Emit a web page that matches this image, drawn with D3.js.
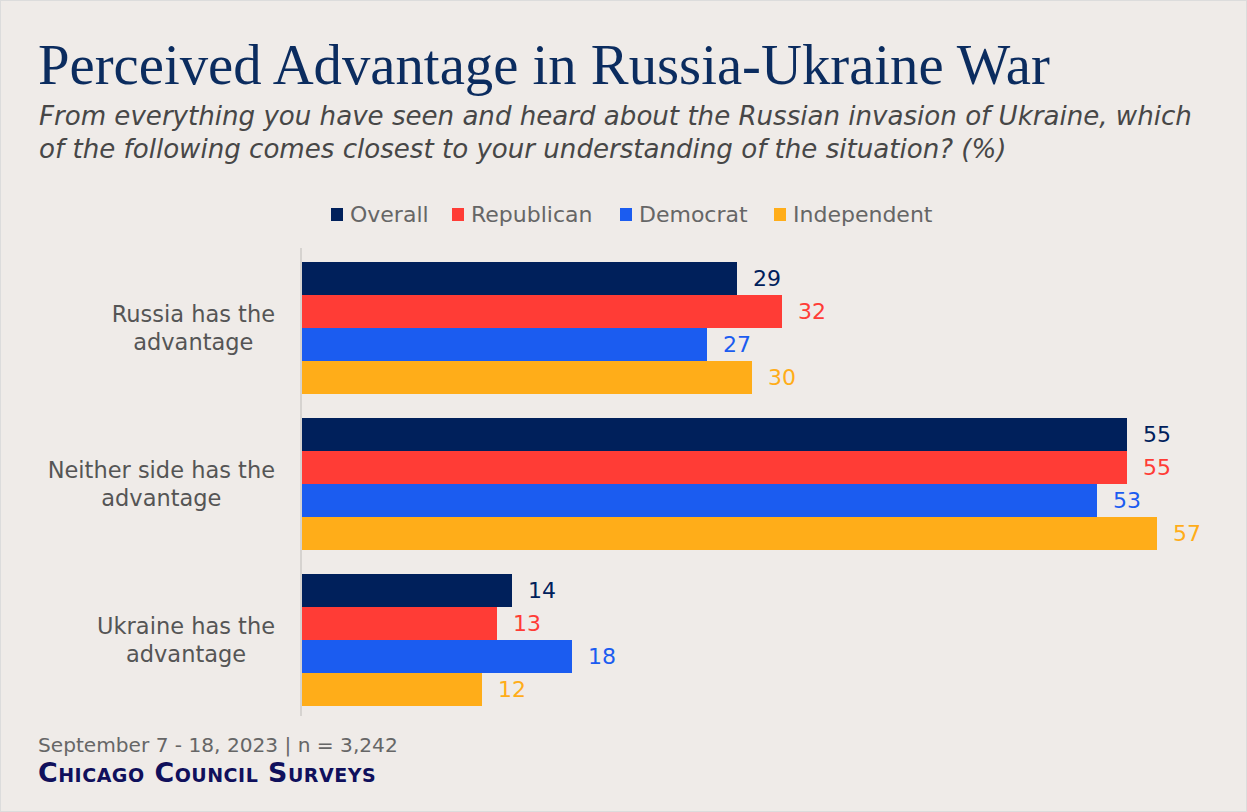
<!DOCTYPE html>
<html>
<head>
<meta charset="utf-8">
<script src="https://cdn.jsdelivr.net/npm/d3@7"></script>
<style>
  html, body { margin: 0; padding: 0; background: #fff; }
  svg { display: block; font-family: "DejaVu Sans", "Open Sans", sans-serif; }
</style>
</head>
<body>
<svg id="chart" width="1247" height="812"></svg>
<script>
// Data
const categories = [
  ['Russia has the', 'advantage'],
  ['Neither side has the', 'advantage'],
  ['Ukraine has the', 'advantage'],
];
const seriesNames = ['Overall', 'Republican', 'Democrat', 'Independent'];
const seriesColors = ['#00205b', '#ff3c36', '#1b5cf0', '#ffad19'];
const overall = [29, 55, 14];
const republican = [32, 55, 13];
const democrat = [27, 53, 18];
const independent = [30, 57, 12];
const values = [overall, republican, democrat, independent];

const TITLE = 'Perceived Advantage in Russia-Ukraine War';
const SUBTITLE = [
  'From everything you have seen and heard about the Russian invasion of Ukraine, which',
  'of the following comes closest to your understanding of the situation? (%)',
];
const NOTE = 'September 7 - 18, 2023 | n = 3,242';
const SOURCE = 'Chicago Council Surveys';

const WIDTH = 1247;
const HEIGHT = 812;

let svg = d3.select('#chart');

// Background and frame
svg.append('rect')
    .attr('x', 0.5).attr('y', 0.5)
    .attr('width', WIDTH - 1).attr('height', HEIGHT - 1)
    .attr('fill', '#efebe8')
    .attr('stroke', '#dcdcdc')
    .attr('stroke-width', 1);

/** Scales the font of a text node so that it spans the given width. */
function fitWidth(sel, target) {
  let size = parseFloat(sel.attr('font-size'));
  let w = sel.node().getComputedTextLength();
  let fitted = size * target / w;
  sel.attr('font-size', fitted.toFixed(2));
  return fitted;
}

// Title
let title = svg.append('text')
    .attr('x', 38).attr('y', 84)
    .attr('font-family', '"Liberation Serif", "DejaVu Serif", serif')
    .attr('font-size', 50)
    .attr('fill', '#0b2c5f')
    .text(TITLE);
fitWidth(title, 1012);

// Subtitle, both lines at the size that fits the first one
let subSize = 22;
SUBTITLE.forEach(function(line, i) {
  let t = svg.append('text')
      .attr('x', 39).attr('y', 125 + i * 33)
      .attr('font-size', subSize)
      .attr('font-style', 'italic')
      .attr('fill', '#474747')
      .text(line);
  if (i == 0) subSize = fitWidth(t, 1153);
});

// Legend
const legendX = [331, 452, 620, 774];
seriesNames.forEach(function(name, i) {
  let g = svg.append('g').attr('transform', 'translate(' + legendX[i] + ',0)');
  g.append('rect')
      .attr('x', 0).attr('y', 208)
      .attr('width', 12).attr('height', 13)
      .attr('fill', seriesColors[i]);
  g.append('text')
      .attr('x', 19).attr('y', 222)
      .attr('font-size', 22)
      .attr('fill', '#666')
      .text(name);
});

// Scales
let x = d3.scaleLinear().domain([0, 60]).range([302, 1202]);
let y0 = d3.scaleBand()
    .domain(d3.range(categories.length))
    .range([262, 706])
    .paddingInner(24 / 156)
    .paddingOuter(0);
let y1 = d3.scaleBand()
    .domain(d3.range(seriesNames.length))
    .range([0, y0.bandwidth()]);

// Bars and value labels
let groups = svg.selectAll('g.group')
    .data(categories)
    .enter().append('g')
    .attr('class', 'group')
    .attr('transform', function(d, i) { return 'translate(0,' + y0(i) + ')'; });

groups.each(function(cat, ci) {
  let g = d3.select(this);
  let rows = seriesNames.map(function(n, si) {
    return {si: si, v: values[si][ci]};
  });
  g.selectAll('rect')
      .data(rows)
      .enter().append('rect')
      .attr('x', x(0))
      .attr('y', function(d) { return y1(d.si); })
      .attr('width', function(d) { return x(d.v) - x(0); })
      .attr('height', y1.bandwidth())
      .attr('fill', function(d) { return seriesColors[d.si]; });
  g.selectAll('text.value')
      .data(rows)
      .enter().append('text')
      .attr('class', 'value')
      .attr('x', function(d) { return x(d.v) + 16; })
      .attr('y', function(d) { return y1(d.si) + y1.bandwidth() / 2; })
      .attr('dy', '0.36em')
      .attr('font-size', 22)
      .attr('fill', function(d) { return seriesColors[d.si]; })
      .text(function(d) { return d.v; });
});

// Category labels: centered lines, block right-aligned against the axis
groups.each(function(cat, ci) {
  let g = d3.select(this);
  let t = g.append('text')
      .attr('font-size', 22.5)
      .attr('fill', '#555')
      .attr('text-anchor', 'middle');
  cat.forEach(function(line, li) {
    t.append('tspan')
        .attr('x', 0)
        .attr('y', y0.bandwidth() / 2 - 6.5 + li * 28)
        .text(line);
  });
  let w = t.node().getBBox().width;
  t.attr('transform', 'translate(' + (275 - w / 2) + ',0)');
});

// Axis line
svg.append('line')
    .attr('x1', 301).attr('x2', 301)
    .attr('y1', 248).attr('y2', 716)
    .attr('stroke', '#d6d3d0')
    .attr('stroke-width', 2);

// Footer
let note = svg.append('text')
    .attr('x', 38).attr('y', 752)
    .attr('font-size', 20)
    .attr('fill', '#666')
    .text(NOTE);
fitWidth(note, 360);

let src = svg.append('text')
    .attr('x', 38).attr('y', 782)
    .attr('font-size', 24)
    .attr('font-weight', 600)
    .attr('font-variant', 'small-caps')
    .attr('letter-spacing', 0.5)
    .attr('fill', '#10105c')
    .text(SOURCE);
fitWidth(src, 340);
</script>
</body>
</html>
